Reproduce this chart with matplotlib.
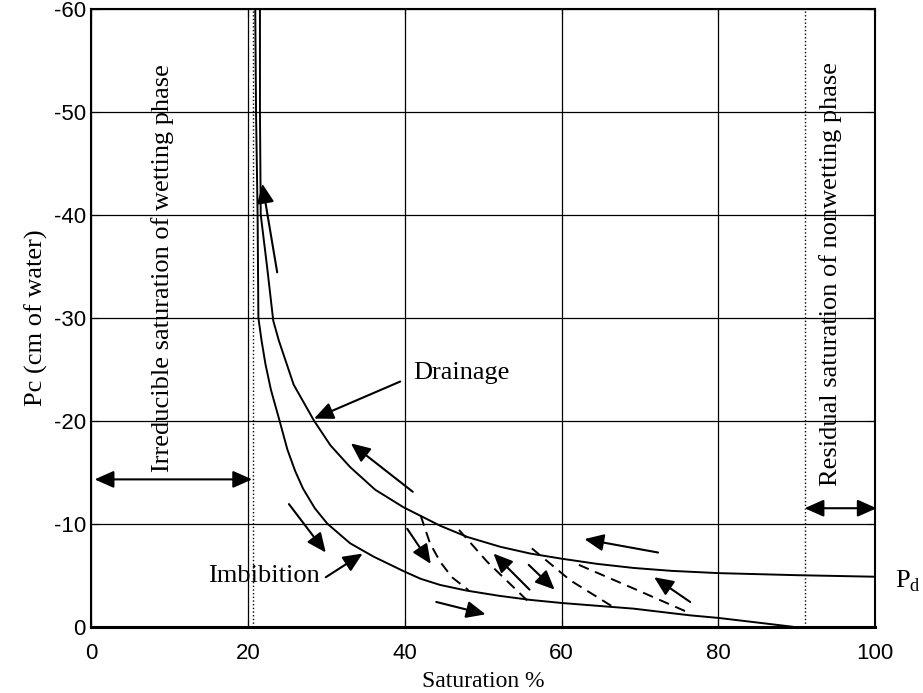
import matplotlib
matplotlib.use("Agg")
import matplotlib.pyplot as plt

plt.rcParams['mathtext.fontset'] = 'custom'
plt.rcParams['mathtext.rm'] = 'Liberation Serif'
plt.rcParams['axes.unicode_minus'] = False

# main curves (saturation %, Pc in cm of water)
imb_s = [20.9, 21.0, 21.2, 21.3, 21.7, 22.2, 22.9, 24.0, 25.0, 26.0, 27.0, 28.5,
         30.1, 33.0, 36.0, 39.8, 42.0, 44.5, 47.9, 52.0, 56.0, 60.0, 65.0, 69.2,
         72.5, 76.4, 80.0, 85.0, 89.4]
imb_p = [-60, -50, -40, -30, -27.8, -25.5, -23.0, -20.0, -17.2, -15.1, -13.4, -11.5,
         -10.0, -8.1, -6.8, -5.4, -4.65, -4.05, -3.5, -3.0, -2.6, -2.3, -2.0, -1.75,
         -1.45, -1.1, -0.85, -0.4, 0.0]
dra_s = [21.5, 21.5, 21.6, 22.4, 23.2, 23.9, 25.8, 28.4, 30.5, 33.0, 36.2, 39.8,
         44.5, 48.0, 52.2, 56.0, 60.0, 64.5, 69.2, 74.0, 80.0, 90.0, 100.0]
dra_p = [-60, -50, -40, -35, -29.7, -27.8, -23.5, -20.0, -17.6, -15.5, -13.3, -11.6,
         -9.8, -8.7, -7.75, -7.1, -6.6, -6.1, -5.7, -5.42, -5.2, -5.0, -4.85]

# scanning curves (dashed)
scan_s = [[42.0, 43.2, 44.5, 46.0, 48.1],
          [46.9, 50.5, 55.8],
          [56.2, 61.1, 66.6],
          [62.2, 69.2, 76.4]]
scan_p = [[-10.8, -8.1, -6.3, -4.8, -3.55],
          [-9.4, -6.3, -2.4],
          [-7.6, -4.5, -1.9],
          [-6.0, -3.7, -1.3]]

# direction arrows: tail -> head
arr_tail = [(23.7, -34.4), (41.0, -13.1), (25.2, -11.9), (40.3, -9.5), (55.9, -3.6),
            (55.8, -6.0), (72.3, -7.2), (76.4, -2.4), (44.0, -2.4),
            (39.4, -23.8), (29.9, -4.8)]
arr_head = [(21.8, -43.0), (33.1, -17.8), (29.9, -7.2), (43.3, -6.1), (51.3, -7.1),
            (59.1, -3.6), (62.9, -8.5), (71.8, -4.8), (50.3, -1.2),
            (28.4, -20.2), (34.6, -7.1)]

irr_s = 20.6
res_s = 91.0

fig = plt.figure(figsize=(9.23, 6.93), dpi=100)
ax = fig.add_axes([0.0991, 0.0957, 0.849, 0.8918])

ax.plot(imb_s, imb_p, color='k', lw=1.4)
ax.plot(dra_s, dra_p, color='k', lw=1.4)
for xs, ys in zip(scan_s, scan_p):
    ax.plot(xs, ys, color='k', lw=1.4, dashes=(5.5, 3.5))

ax.plot([irr_s, irr_s], [0, -60], color='k', lw=1.0, ls=':')
ax.plot([res_s, res_s], [0, -60], color='k', lw=1.0, ls=':')

ap = dict(arrowstyle='-|>,head_length=0.9,head_width=0.4', mutation_scale=13,
          lw=1.5, color='k', shrinkA=0, shrinkB=0)
for t, h in zip(arr_tail, arr_head):
    ax.annotate('', xy=h, xytext=t, arrowprops=ap)

dap = dict(arrowstyle='<|-|>,head_length=0.9,head_width=0.4', mutation_scale=13,
           lw=1.5, color='k', shrinkA=0, shrinkB=0)
ax.annotate('', xy=(0.4, -14.3), xytext=(20.5, -14.3), arrowprops=dap)
ax.annotate('', xy=(res_s, -11.5), xytext=(100.2, -11.5), arrowprops=dap,
            annotation_clip=False)

serif = 'Liberation Serif'
ax.text(41.1, -24.6, 'Drainage', fontsize=19, family=serif, va='center', ha='left')
ax.text(14.9, -4.9, 'Imbibition', fontsize=19, family=serif, va='center', ha='left')
ax.text(9.1, -34.8, 'Irreducible saturation of wetting phase', rotation=90,
        fontsize=19, family=serif, ha='center', va='center')
ax.text(94.3, -34.2, 'Residual saturation of nonwetting phase', rotation=90,
        fontsize=19, family=serif, ha='center', va='center')
ax.text(102.6, -4.4, r'$\mathrm{P}_\mathrm{d}$', fontsize=19, ha='left',
        va='center', clip_on=False)

ax.set_xlim(0, 100)
ax.set_ylim(0, -60)
ax.set_xticks([0, 20, 40, 60, 80, 100])
ax.set_yticks([0, -10, -20, -30, -40, -50, -60])
ax.grid(True, color='k', lw=0.9)
ax.tick_params(direction='in', length=6, top=True, right=True, labelsize=16)
for lab in ax.get_xticklabels() + ax.get_yticklabels():
    lab.set_family('Liberation Sans')
ax.tick_params(axis='x', pad=12)
ax.tick_params(axis='y', pad=4)
for sp in ax.spines.values():
    sp.set_linewidth(1.5)
ax.spines['bottom'].set_linewidth(2.2)

ax.set_xlabel('Saturation %', fontsize=17, family=serif, labelpad=5)
ax.set_ylabel('Pc (cm of water)', fontsize=19, family=serif, labelpad=4)

fig.savefig('out.png', dpi=100)
